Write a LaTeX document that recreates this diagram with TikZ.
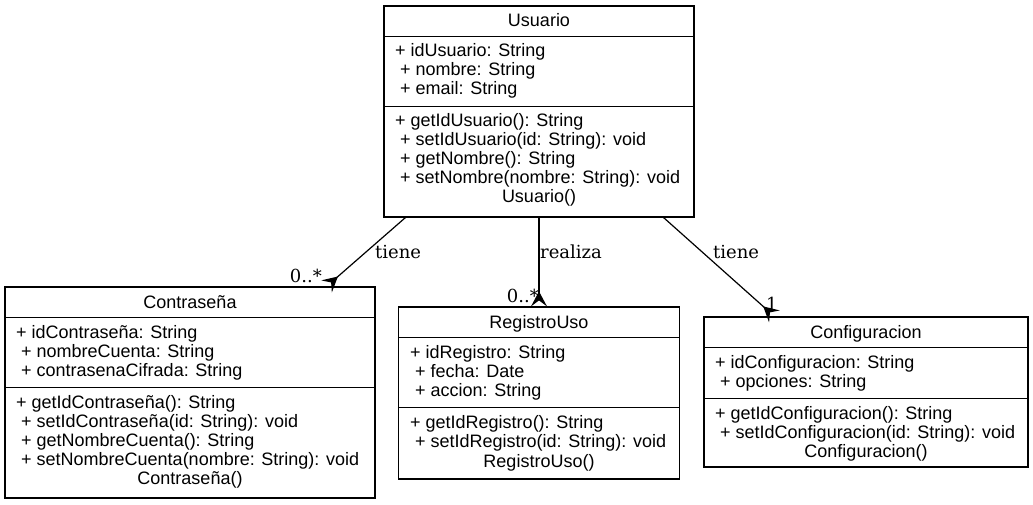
\documentclass[tikz,border=0pt]{standalone}
\usepackage{fontspec}
\setsansfont{Liberation Sans}
\newfontfamily\lblfont{DejaVu Serif}
\usetikzlibrary{arrows.meta}

\tikzset{
    cls/.style={draw, line width=1.2pt, inner sep=0pt, fill=white},
    sep/.style={line width=1.2pt},
    txt/.style={anchor=base west, inner sep=0pt, font=\sffamily\fontsize{18}{19}\selectfont},
    ctr/.style={txt, anchor=base},
    lbl/.style={inner sep=0pt, font=\lblfont\fontsize{18}{20}\selectfont},
    assoc/.style={line width=1.2pt, -{Stealth[reversed, length=15pt, width=16pt, inset=6pt]}}
}

\begin{document}
\begin{tikzpicture}[x=1pt, y=-1pt]
    \useasboundingbox[fill=white] (0,0) rectangle (1033,505);

    % Usuario
    \node[cls, minimum width=310pt, minimum height=211pt] (usuario) at (539,111.5) {};
    \draw[sep] ([yshift=-31pt]usuario.north west) -- ([yshift=-31pt]usuario.north east);
    \draw[sep] ([yshift=-101pt]usuario.north west) -- ([yshift=-101pt]usuario.north east);
    \node[ctr] (usuT) at (539,27) {Usuario};
    \foreach \t [count=\i] in {{+ idUsuario: String},{\ + nombre: String},{\ + email: String}}
        \node[txt] (usuA\i) at (395,38+19*\i) {\t};
    \foreach \t [count=\i] in {{+ getIdUsuario(): String},{\ + setIdUsuario(id: String): void},
            {\ + getNombre(): String},{\ + setNombre(nombre: String): void}}
        \node[txt] (usuM\i) at (395,108+19*\i) {\t};
    \node[ctr] (usuC) at (539,203) {Usuario()};

    % Contrasena
    \node[cls, minimum width=370pt, minimum height=211pt] (contra) at (190,392.5) {};
    \draw[sep] ([yshift=-31pt]contra.north west) -- ([yshift=-31pt]contra.north east);
    \draw[sep] ([yshift=-101pt]contra.north west) -- ([yshift=-101pt]contra.north east);
    \node[ctr] (conT) at (190,308) {Contraseña};
    \foreach \t [count=\i] in {{+ idContraseña: String},{\ + nombreCuenta: String},{\ + contrasenaCifrada: String}}
        \node[txt] (conA\i) at (16,319+19*\i) {\t};
    \foreach \t [count=\i] in {{+ getIdContraseña(): String},{\ + setIdContraseña(id: String): void},
            {\ + getNombreCuenta(): String},{\ + setNombreCuenta(nombre: String): void}}
        \node[txt] (conM\i) at (16,389+19*\i) {\t};
    \node[ctr] (conC) at (190,484) {Contraseña()};

    % RegistroUso
    \node[cls, minimum width=281pt, minimum height=172pt] (registro) at (539,393) {};
    \draw[sep] ([yshift=-31pt]registro.north west) -- ([yshift=-31pt]registro.north east);
    \draw[sep] ([yshift=-101pt]registro.north west) -- ([yshift=-101pt]registro.north east);
    \node[ctr] (regT) at (539,328) {RegistroUso};
    \foreach \t [count=\i] in {{+ idRegistro: String},{\ + fecha: Date},{\ + accion: String}}
        \node[txt] (regA\i) at (410,339+19*\i) {\t};
    \foreach \t [count=\i] in {{+ getIdRegistro(): String},{\ + setIdRegistro(id: String): void}}
        \node[txt] (regM\i) at (410,409+19*\i) {\t};
    \node[ctr] (regC) at (539,467) {RegistroUso()};

    % Configuracion
    \node[cls, minimum width=324pt, minimum height=150pt] (config) at (866,392) {};
    \draw[sep] ([yshift=-31pt]config.north west) -- ([yshift=-31pt]config.north east);
    \draw[sep] ([yshift=-82pt]config.north west) -- ([yshift=-82pt]config.north east);
    \node[ctr] (cfgT) at (866,338) {Configuracion};
    \foreach \t [count=\i] in {{+ idConfiguracion: String},{\ + opciones: String}}
        \node[txt] (cfgA\i) at (715,349+19*\i) {\t};
    \foreach \t [count=\i] in {{+ getIdConfiguracion(): String},{\ + setIdConfiguracion(id: String): void}}
        \node[txt] (cfgM\i) at (715,400+19*\i) {\t};
    \node[ctr] (cfgC) at (866,457) {Configuracion()};

    % associations
    \draw[assoc] ([xshift=22pt]usuario.south west) -- ([xshift=-49pt]contra.north east);
    \draw[assoc] (usuario.south) -- (registro.north);
    \draw[assoc] ([xshift=-31pt]usuario.south east) -- ([xshift=71pt]config.north west);

    \node[lbl, anchor=base west] (tiene1) at (375,258) {tiene};
    \node[lbl, anchor=base west] (realiza) at (540,258) {realiza};
    \node[lbl, anchor=base west] (tiene2) at (713,258) {tiene};
    \node[lbl, anchor=base east] (mult1) at (322,282) {0..*};
    \node[lbl, anchor=base east] (mult2) at (539,302) {0..*};
    \node[lbl, anchor=base west] (mult3) at (766,310) {1};
\end{tikzpicture}
\end{document}
